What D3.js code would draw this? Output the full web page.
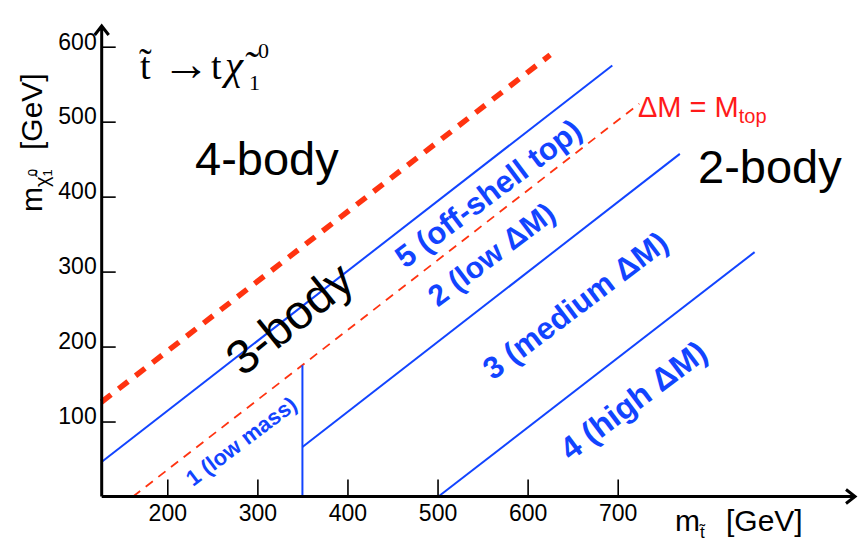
<!DOCTYPE html>
<html>
<head>
<meta charset="utf-8">
<script src="https://cdn.jsdelivr.net/npm/d3@7"></script>
<style>
  body { margin: 0; background: #fff; }
  text { font-family: "Liberation Sans", Arial, Helvetica, sans-serif; }
  .tick line { stroke: #000; stroke-width: 1.6px; }
  .tick text { font-size: 23px; fill: #000; }
</style>
</head>
<body>
<div id="chart"></div>
<script>
var xTicks = [200, 300, 400, 500, 600, 700];
var yTicks = [100, 200, 300, 400, 500, 600];

// line end points as [m_stop, m_chi] in GeV
var fourBodyEdge = [[127, 126], [625, 589]];   // 4-body / 3-body boundary
var topMassEdge  = [[162, 0], [724, 524]];     // dM = M_top
var sr5Edge      = [[127, 46], [694, 575]];
var sr1Edge      = [[350, 0], [350, 175]];
var sr2Edge      = [[350, 66], [769, 457]];
var sr4Edge      = [[501, 0], [852, 326]];

var regionNames = ["4-body", "3-body", "2-body"];
var srNames = ["1 (low mass)", "2 (low \u0394M)", "3 (medium \u0394M)", "4 (high \u0394M)", "5 (off-shell top)"];

var W = 858, H = 544;
var blue = "#1244ff", red = "#ff3310";

var svg = d3.select("#chart").append("svg")
  .attr("width", W).attr("height", H);

var x = d3.scaleLinear().domain([200, 700]).range([167.3, 617.7]);
var y = d3.scaleLinear().domain([0, 600]).range([496.5, 46.7]);
var x0 = 101.7, y0 = 496.5;

var line = d3.line().x(function(d){ return x(d[0]); }).y(function(d){ return y(d[1]); });

// boundary lines
svg.append("path").datum(fourBodyEdge).attr("d", line)
   .attr("fill", "none").attr("stroke", red).attr("stroke-width", 5.5)
   .attr("stroke-dasharray", "12,9.5");
svg.append("path").datum(topMassEdge).attr("d", line)
   .attr("fill", "none").attr("stroke", red).attr("stroke-width", 1.8)
   .attr("stroke-dasharray", "9,7");
[sr5Edge, sr1Edge, sr2Edge, sr4Edge].forEach(function(e){
  svg.append("path").datum(e).attr("d", line)
     .attr("fill", "none").attr("stroke", blue).attr("stroke-width", 2);
});

// axes
var xAxis = d3.axisBottom(x).tickValues(xTicks).tickSize(-17).tickPadding(8);
var yAxis = d3.axisLeft(y).tickValues(yTicks).tickSize(-14).tickPadding(5);

svg.append("g").attr("transform", "translate(0," + y0 + ")").call(xAxis)
   .call(function(g){ g.select(".domain").remove(); });
svg.append("g").attr("transform", "translate(" + x0 + ",0)").call(yAxis)
   .call(function(g){ g.select(".domain").remove(); })
   .selectAll("text").attr("dy", "0.1em");

// axis lines with open arrow heads
svg.append("path")
   .attr("d", "M" + x0 + "," + y0 + "H855M846," + (y0 - 7) + "L855," + y0 + "L846," + (y0 + 7))
   .attr("fill", "none").attr("stroke", "#000").attr("stroke-width", 3);
svg.append("path")
   .attr("d", "M" + x0 + "," + y0 + "V26M" + (x0 - 7) + ",35L" + x0 + ",26L" + (x0 + 7) + ",35")
   .attr("fill", "none").attr("stroke", "#000").attr("stroke-width", 3);

// axis titles
var xt = svg.append("text").attr("x", 675).attr("y", 531).style("font-size", "30px");
xt.append("tspan").text("m");
xt.append("tspan").attr("dy", 7).style("font-size", "17px").text("t\u0303");
xt.append("tspan").attr("x", 726).attr("dy", -7).text("[GeV]");

var yt = svg.append("text").attr("transform", "translate(42,212) rotate(-90)").style("font-size", "30px");
yt.append("tspan").text("m");
yt.append("tspan").attr("dy", 7).style("font-size", "20px").text("\u03c7\u0303");
yt.append("tspan").attr("dy", 3).style("font-size", "13px").text("1");
yt.append("tspan").attr("dx", -7).attr("dy", -15).style("font-size", "13px").text("0");
yt.append("tspan").attr("x", 62).attr("dy", 5).text("[GeV]");

// process title, one text element
var title = svg.append("text")
  .style("font-family", "'Liberation Serif', 'DejaVu Serif', serif");
function piece(px, py, size, str, italic) {
  title.append("tspan").attr("x", px).attr("y", py)
    .style("font-size", size + "px")
    .style("font-style", italic ? "italic" : "normal").text(str);
}
piece(140, 79, 38, "t\u0303");
piece(162, 80, 48, "\u2192");
piece(211, 79, 38, "t");
piece(225, 79, 41, "\u03c7\u0303", true);
piece(249, 90, 22, "1");
piece(258, 58, 22, "0");

// region labels
svg.append("text").attr("x", 195).attr("y", 175).style("font-size", "47px").text(regionNames[0]);
svg.append("text").attr("x", 698).attr("y", 183).style("font-size", "47px").text(regionNames[2]);
svg.append("text").attr("transform", "translate(289,318) rotate(-39)")
   .attr("text-anchor", "middle").attr("dy", "0.36em").style("font-size", "48px").text(regionNames[1]);

// signal region labels
var srPos = [[241, 441, 22], [491, 254, 30], [575, 305, 31], [633, 400, 32], [488, 193, 31]];
srNames.forEach(function(s, i){
  svg.append("text")
     .attr("transform", "translate(" + srPos[i][0] + "," + srPos[i][1] + ") rotate(-37)")
     .attr("text-anchor", "middle").attr("dy", "0.36em")
     .style("font-size", srPos[i][2] + "px").style("font-weight", "bold")
     .attr("fill", blue).text(s);
});

// dM = M_top label
var dm = svg.append("text").attr("x", 638).attr("y", 117).attr("fill", "#ff1a1a").style("font-size", "29px");
dm.append("tspan").text("\u0394M = M");
dm.append("tspan").attr("dy", 6).style("font-size", "20px").text("top");
</script>
</body>
</html>
